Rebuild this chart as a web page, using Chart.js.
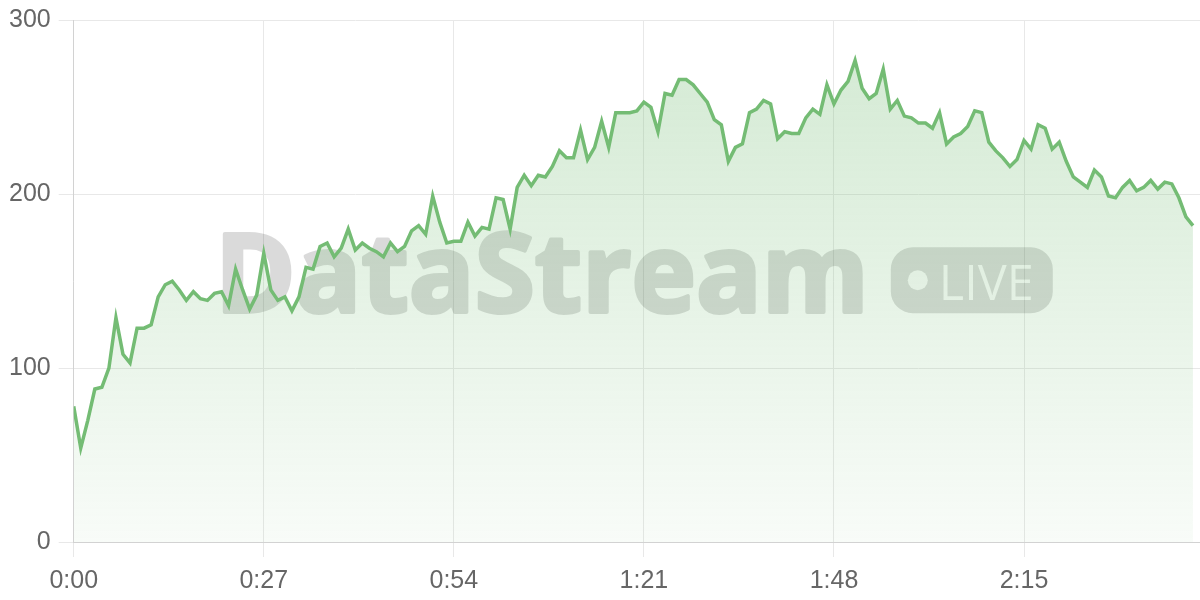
<!DOCTYPE html>
<html>
<head>
<meta charset="utf-8">
<script src="https://cdn.jsdelivr.net/npm/chart.js@4"></script>
<style>
  html, body { margin: 0; padding: 0; background: #fff; }
  #wrap { width: 1200px; height: 600px; position: relative; }
</style>
</head>
<body>
<div id="wrap"><canvas id="streamChart"></canvas></div>
<script>
// viewers per second, 0:00 .. 2:39
const viewers = [
  78, 54, 70, 88, 89, 100, 129, 108, 103, 123,
  123, 125, 141, 148, 150, 145, 139, 144, 140, 139,
  143, 144, 136, 157, 145, 134, 142, 166, 145, 139,
  141, 133, 141, 158, 157, 170, 172, 164, 169, 180,
  168, 172, 169, 167, 164, 172, 167, 170, 179, 182,
  177, 199, 184, 172, 173, 173, 184, 176, 181, 180,
  198, 197, 180, 204, 211, 205, 211, 210, 216, 225,
  221, 221, 237, 220, 227, 242, 227, 247, 247, 247,
  248, 253, 250, 236, 258, 257, 266, 266, 263, 258,
  253, 243, 240, 219, 227, 229, 247, 249, 254, 252,
  232, 236, 235, 235, 244, 249, 246, 263, 252, 260,
  265, 277, 261, 255, 258, 272, 249, 254, 245, 244,
  241, 241, 238, 247, 229, 233, 235, 239, 248, 247,
  230, 225, 221, 216, 220, 231, 226, 240, 238, 226,
  230, 219, 210, 207, 204, 214, 210, 199, 198, 204,
  208, 202, 204, 208, 203, 207, 206, 198, 187, 182
];
const xTicks = [0, 27, 54, 81, 108, 135];
const xTickLabels = ['0:00', '0:27', '0:54', '1:21', '1:48', '2:15'];
const yTicks = [0, 100, 200, 300];
const brand = 'DataStream';
const badge = 'LIVE';

const points = viewers.map((v, i) => ({ x: i, y: v }));

// watermark drawn opaque on a scratch canvas, then pasted translucent
const watermark = {
  id: 'watermark',
  beforeDatasetsDraw(chart) {
    const { ctx, chartArea: a, width, height } = chart;
    const off = document.createElement('canvas');
    off.width = width;
    off.height = height;
    const o = off.getContext('2d');

    const cx = (a.left + a.right) / 2 - 4;
    const base = (a.top + a.bottom) / 2 + 32;

    o.font = 'bold 100px "Open Sans"';
    let w = o.measureText(brand).width;
    const size = 100 * 654 / w;
    o.font = 'bold ' + size + 'px "Open Sans"';
    w = o.measureText(brand).width + 4;

    const badgeW = 162, badgeH = 66, gap = 20;
    const x0 = cx - (w + gap + badgeW) / 2;

    o.fillStyle = '#000';
    o.strokeStyle = '#000';
    o.lineWidth = 4;
    o.lineJoin = 'round';
    o.textBaseline = 'alphabetic';
    o.fillText(brand, x0 + 2, base - 1);
    o.strokeText(brand, x0 + 2, base - 1);

    const bx = x0 + w + gap, by = base - badgeH;
    o.beginPath();
    o.roundRect(bx, by, badgeW, badgeH, 22);
    o.fill();

    // dot and LIVE knocked out of the badge, partly
    o.globalCompositeOperation = 'destination-out';
    o.fillStyle = 'rgba(0,0,0,0.9)';
    o.beginPath();
    o.arc(bx + 27, by + badgeH / 2, 10, 0, Math.PI * 2);
    o.fill();
    o.font = '50px "Open Sans"';
    const ls = 50 * 95 / o.measureText(badge).width;
    o.font = ls + 'px "Open Sans"';
    o.fillText(badge, bx + 48, by + badgeH / 2 + 20);

    ctx.save();
    ctx.beginPath();
    ctx.rect(a.left, a.top, a.right - a.left, a.bottom - a.top);
    ctx.clip();
    ctx.globalAlpha = 0.145;
    ctx.drawImage(off, 0, 0, width, height);
    ctx.restore();
  }
};

const ctx = document.getElementById('streamChart');
new Chart(ctx, {
  type: 'line',
  data: {
    datasets: [{
      data: points,
      borderColor: '#74bc74',
      borderWidth: 3.5,
      pointRadius: 0,
      tension: 0,
      fill: 'origin',
      backgroundColor: (c) => {
        const a = c.chart.chartArea;
        if (!a) return 'rgba(118,189,118,0.2)';
        const g = c.chart.ctx.createLinearGradient(0, a.top, 0, a.bottom);
        g.addColorStop(0, 'rgba(118,189,118,0.33)');
        g.addColorStop(1, 'rgba(118,189,118,0.05)');
        return g;
      }
    }]
  },
  options: {
    responsive: true,
    maintainAspectRatio: false,
    animation: false,
    layout: { padding: { top: 20, left: 1, right: 0, bottom: -5 } },
    plugins: { legend: { display: false }, tooltip: { enabled: false } },
    scales: {
      x: {
        type: 'linear',
        min: 0,
        max: 160,
        afterBuildTicks: (s) => { s.ticks = xTicks.map(v => ({ value: v })); },
        ticks: {
          autoSkip: false,
          maxRotation: 0,
          padding: 9,
          color: '#666',
          font: { family: 'Liberation Sans', size: 25 },
          callback: (v) => xTickLabels[xTicks.indexOf(v)]
        },
        grid: { color: '#e8e8e8', tickLength: 15 },
        border: { color: '#d2d2d2' }
      },
      y: {
        min: 0,
        max: 300,
        afterBuildTicks: (s) => { s.ticks = yTicks.map(v => ({ value: v })); },
        ticks: {
          padding: 8,
          color: '#666',
          font: { family: 'Liberation Sans', size: 25, lineHeight: 1 }
        },
        grid: { color: '#e8e8e8', tickLength: 15 },
        border: { color: '#d2d2d2' }
      }
    }
  },
  plugins: [watermark]
});
</script>
</body>
</html>
